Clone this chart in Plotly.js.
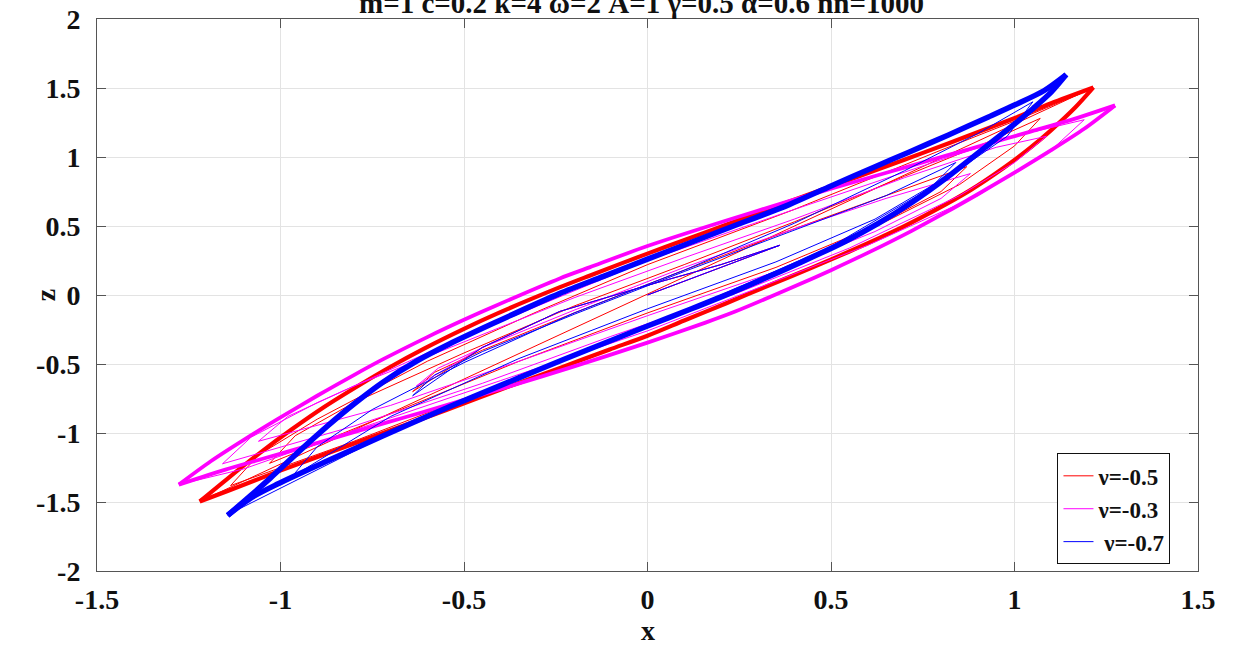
<!DOCTYPE html>
<html>
<head>
<meta charset="utf-8">
<script src="https://cdn.plot.ly/plotly-3.0.1.min.js"></script>
<style>html,body{margin:0;padding:0;background:#fff;}#chart{width:1235px;height:646px;}</style>
</head>
<body>
<div id="chart"></div>
<script>
// ---- data (x, z) ----
const seriesNames = ['ν=-0.5', 'ν=-0.3', ' ν=-0.7'];
const seriesColors = ['#ff0000', '#ff00ff', '#0000ff'];

// common start of every trajectory
const startX = [0, 0.18, 0.36, 0.2, 0, -0.24, -0.45];
const startZ = [0, 0.18, 0.36, 0.22, 0.07, -0.12, -0.38];

// transient (thin) part, after the common start
const redTransX = [-0.64, -0.58, -0.45, -0.2, 0.1, 0.4, 0.65, 0.87, 0.8, 0.62, 0.35, 0, -0.35, -0.7, -1.03, -0.96, -0.8, -0.5, -0.2, 0.1, 0.4, 0.7, 0.92, 1.07, 1.0, 0.85, 0.55, 0.25, -0.1, -0.45, -0.8, -1.136, -1.06, -0.9, -0.6, -0.3, 0, 0.4, 0.8, 1.0, 1.18];
const redTransZ = [-0.70, -0.56, -0.40, -0.13, 0.18, 0.48, 0.72, 0.93, 0.75, 0.5, 0.2, -0.13, -0.48, -0.86, -1.22, -1.02, -0.78, -0.42, -0.08, 0.22, 0.53, 0.86, 1.1, 1.28, 1.08, 0.8, 0.4, 0.04, -0.33, -0.7, -1.06, -1.381, -1.16, -0.9, -0.48, -0.12, 0.22, 0.62, 1.05, 1.26, 1.46];

const magTransX = [-0.63, -0.57, -0.44, -0.2, 0.1, 0.4, 0.65, 0.88, 0.8, 0.62, 0.35, 0, -0.35, -0.7, -1.06, -0.98, -0.8, -0.5, -0.2, 0.1, 0.4, 0.7, 0.95, 1.087, 1.0, 0.85, 0.55, 0.25, -0.1, -0.45, -0.8, -1.158, -1.08, -0.9, -0.6, -0.3, 0, 0.4, 0.8, 1.0, 1.19, 1.1, 0.9, 0.6, 0.3, 0, -0.4, -0.8, -1.1, -1.25];
const magTransZ = [-0.66, -0.53, -0.37, -0.11, 0.2, 0.48, 0.7, 0.88, 0.7, 0.46, 0.17, -0.15, -0.48, -0.8, -1.06, -0.88, -0.66, -0.34, -0.02, 0.27, 0.55, 0.85, 1.07, 1.15, 0.96, 0.72, 0.34, 0.02, -0.3, -0.64, -0.95, -1.223, -1.03, -0.78, -0.42, -0.08, 0.25, 0.62, 0.98, 1.15, 1.27, 1.05, 0.72, 0.36, 0.05, -0.26, -0.62, -0.98, -1.26, -1.36];

const bluTransX = [-0.64, -0.58, -0.45, -0.2, 0.1, 0.4, 0.65, 0.84, 0.78, 0.62, 0.35, 0, -0.35, -0.7, -0.97, -0.9, -0.75, -0.5, -0.2, 0.1, 0.4, 0.7, 0.9, 1.05, 0.98, 0.8, 0.5, 0.2, -0.1, -0.4, -0.7, -0.95, -1.12];
const bluTransZ = [-0.73, -0.58, -0.41, -0.14, 0.17, 0.47, 0.72, 0.96, 0.8, 0.55, 0.24, -0.1, -0.46, -0.88, -1.32, -1.1, -0.83, -0.49, -0.13, 0.18, 0.52, 0.9, 1.17, 1.40, 1.15, 0.82, 0.35, 0.0, -0.33, -0.66, -1.0, -1.33, -1.56];

// steady loops (thick): rising branch (left tip -> right tip), falling branch (right tip -> left tip)
const redUpX = [-1.220, -1.144, -1.054, -0.97, -0.88, -0.78, -0.70, -0.61, -0.50, -0.41, -0.24, -0.158, 0, 0.103, 0.22, 0.40, 0.55, 0.70, 0.821, 0.93, 1.003, 1.10, 1.215];
const redUpZ = [-1.496, -1.33, -1.14, -0.975, -0.81, -0.645, -0.52, -0.39, -0.245, -0.135, 0.055, 0.14, 0.30, 0.40, 0.515, 0.69, 0.835, 0.98, 1.10, 1.21, 1.285, 1.39, 1.504];
const redDownX = [1.215, 1.166, 1.10, 1.04, 0.97, 0.88, 0.78, 0.666, 0.55, 0.45, 0.34, 0.215, 0.1, 0, -0.103, -0.24, -0.40, -0.55, -0.70, -0.87, -1.008, -1.144, -1.220];
const redDownZ = [1.504, 1.36, 1.195, 1.06, 0.92, 0.76, 0.61, 0.455, 0.315, 0.20, 0.08, -0.06, -0.185, -0.295, -0.395, -0.53, -0.685, -0.835, -0.98, -1.145, -1.28, -1.42, -1.496];

const magUpX = [-1.277, -1.19, -1.10, -1.008, -0.90, -0.80, -0.72, -0.60, -0.50, -0.42, -0.239, -0.158, 0, 0.215, 0.386, 0.5, 0.62, 0.712, 0.821, 0.929, 1.046, 1.15, 1.274];
const magUpZ = [-1.374, -1.205, -1.05, -0.90, -0.73, -0.58, -0.465, -0.305, -0.18, -0.085, 0.12, 0.20, 0.355, 0.54, 0.68, 0.77, 0.862, 0.932, 1.015, 1.097, 1.186, 1.265, 1.374];
const magDownX = [1.274, 1.19, 1.10, 1.008, 0.90, 0.80, 0.72, 0.60, 0.50, 0.42, 0.239, 0.158, 0, -0.215, -0.386, -0.5, -0.62, -0.712, -0.821, -0.929, -1.046, -1.15, -1.277];
const magDownZ = [1.374, 1.205, 1.05, 0.90, 0.73, 0.58, 0.465, 0.305, 0.18, 0.085, -0.12, -0.20, -0.345, -0.53, -0.67, -0.76, -0.855, -0.925, -1.01, -1.095, -1.185, -1.265, -1.374];

const bluUpX = [-1.144, -1.08, -1.027, -0.95, -0.87, -0.80, -0.72, -0.63, -0.54, -0.42, -0.24, -0.12, 0, 0.215, 0.386, 0.5, 0.62, 0.712, 0.82, 0.929, 1.003, 1.08, 1.141];
const bluUpZ = [-1.597, -1.45, -1.325, -1.135, -0.945, -0.79, -0.63, -0.48, -0.355, -0.205, 0.01, 0.135, 0.26, 0.48, 0.655, 0.79, 0.93, 1.035, 1.16, 1.29, 1.38, 1.48, 1.597];
const bluDownX = [1.141, 1.10, 1.05, 1.003, 0.92, 0.82, 0.72, 0.63, 0.54, 0.42, 0.24, 0.12, 0, -0.166, -0.30, -0.40, -0.54, -0.72, -0.87, -1.008, -1.08, -1.144];
const bluDownZ = [1.597, 1.47, 1.35, 1.245, 1.07, 0.86, 0.67, 0.52, 0.39, 0.24, 0.03, -0.10, -0.225, -0.40, -0.545, -0.655, -0.81, -1.02, -1.20, -1.37, -1.47, -1.597];

const xTickVals = [-1.5, -1, -0.5, 0, 0.5, 1, 1.5];
const xTickText = ['-1.5', '-1', '-0.5', '0', '0.5', '1', '1.5'];
const yTickVals = [-2, -1.5, -1, -0.5, 0, 0.5, 1, 1.5, 2];
const yTickText = ['-2', '-1.5', '-1', '-0.5', '0', '0.5', '1', '1.5', '2'];
const titleText = 'm=1 c=0.2 k=4 ω=2 A=1 γ=0.5 α=0.6 nn=1000';
const xLabel = 'x';
const zLabel = 'z';

// ---- build traces ----
const groups = [
  {tx: redTransX, tz: redTransZ, ux: redUpX, uz: redUpZ, dx: redDownX, dz: redDownZ, w: 4.2},
  {tx: magTransX, tz: magTransZ, ux: magUpX, uz: magUpZ, dx: magDownX, dz: magDownZ, w: 3.8},
  {tx: bluTransX, tz: bluTransZ, ux: bluUpX, uz: bluUpZ, dx: bluDownX, dz: bluDownZ, w: 5.5}
];
const traces = [];
groups.forEach((g, i) => {
  [[g.ux, g.uz], [g.dx, g.dz]].forEach(b => {
    traces.push({
      x: b[0], y: b[1], mode: 'lines', type: 'scatter',
      line: {color: seriesColors[i], width: g.w, shape: 'spline', smoothing: 0.8},
      showlegend: false, legendgroup: 'g' + i, hoverinfo: 'skip'
    });
  });
  traces.push({
    x: startX.concat(g.tx, g.ux.slice(0, 1)), y: startZ.concat(g.tz, g.uz.slice(0, 1)),
    mode: 'lines', type: 'scatter', name: seriesNames[i],
    line: {color: seriesColors[i], width: 1},
    legendgroup: 'g' + i
  });
});

const fontFam = '"Liberation Serif", "Times New Roman", serif';
const axisCommon = {
  showgrid: true, gridcolor: '#e3e3e3', gridwidth: 1,
  zeroline: false, showline: true, linecolor: '#555', linewidth: 1,
  mirror: 'ticks', ticks: 'inside', ticklen: 9, tickcolor: '#555',
  tickfont: {family: fontFam, size: 28, color: '#111', weight: 'bold'}
};

const layout = {
  width: 1235, height: 646,
  margin: {l: 97, r: 37, t: 19, b: 75},
  paper_bgcolor: '#fff', plot_bgcolor: '#fff',
  font: {family: fontFam, color: '#111'},
  xaxis: Object.assign({}, axisCommon, {
    range: [-1.5, 1.5], tickvals: xTickVals, ticktext: xTickText, ticklabelstandoff: 3
  }),
  yaxis: Object.assign({}, axisCommon, {
    range: [-2, 2], tickvals: yTickVals, ticktext: yTickText, ticklabelstandoff: 10
  }),
  legend: {
    x: 0.975, y: 0.012, xanchor: 'right', yanchor: 'bottom',
    bgcolor: '#fff', bordercolor: '#111', borderwidth: 1,
    font: {family: fontFam, size: 23, color: '#111', weight: 'bold'},
    tracegroupgap: 0
  },
  annotations: [
    {
      text: '<b>' + titleText + '</b>', xref: 'paper', yref: 'paper', x: 0.495, y: 1,
      xanchor: 'center', yanchor: 'bottom', yshift: -2, showarrow: false,
      font: {family: fontFam, size: 29, color: '#111'}
    },
    {
      text: '<b>' + xLabel + '</b>', xref: 'paper', yref: 'paper', x: 0.5, y: -0.108,
      xanchor: 'center', yanchor: 'middle', showarrow: false,
      font: {family: fontFam, size: 28, color: '#111'}
    },
    {
      text: '<b>' + zLabel + '</b>', xref: 'paper', yref: 'paper', x: -0.047, y: 0.5,
      xanchor: 'center', yanchor: 'middle', textangle: -90, showarrow: false,
      font: {family: fontFam, size: 28, color: '#111'}
    }
  ]
};

Plotly.newPlot('chart', traces, layout, {displayModeBar: false, staticPlot: true});
</script>
</body>
</html>
